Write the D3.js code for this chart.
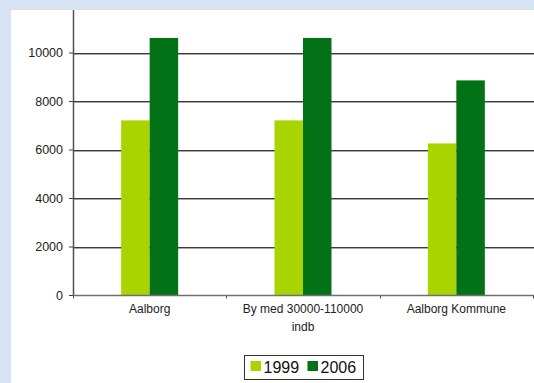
<!DOCTYPE html>
<html>
<head>
<meta charset="utf-8">
<script src="https://cdn.jsdelivr.net/npm/d3@7"></script>
<style>
  body { margin: 0; background: #d7e2f2; }
  svg { display: block; font-family: "Liberation Sans", Arial, sans-serif; }
</style>
</head>
<body>
<div id="chart"></div>
<script>
var categories = [["Aalborg"], ["By med 30000-110000", "indb"], ["Aalborg Kommune"]];
var years = ["1999", "2006"];
var values1999 = [7200, 7200, 6250];
var values2006 = [10600, 10600, 8850];
var yTicks = [0, 2000, 4000, 6000, 8000, 10000];
var colors = ["#aad400", "#037217"];

var width = 534, height = 383;
var svg = d3.select('#chart').append('svg')
    .attr('width', width)
    .attr('height', height);

// white panel
svg.append('rect')
    .attr('x', 11).attr('y', 10)
    .attr('width', width - 11).attr('height', height - 10)
    .attr('fill', 'white');

var margin = {top: 10, left: 73, bottom: 295, right: 533};

var y = d3.scaleLinear()
    .domain([0, 10000])
    .range([295, 52.5]);

var x0 = d3.scaleBand()
    .domain(d3.range(categories.length))
    .range([margin.left, margin.right]);

var x1 = d3.scaleBand()
    .domain(years)
    .range([x0.bandwidth() / 2 - 28.5, x0.bandwidth() / 2 + 28.5]);

// gridlines
var grid = svg.append('g');
yTicks.filter(d => d > 0).forEach(t => {
    grid.append('line')
        .attr('x1', margin.left).attr('x2', width)
        .attr('y1', Math.round(y(t)) + 1.5).attr('y2', Math.round(y(t)) + 1.5)
        .attr('stroke', '#a8a8a8');
    grid.append('line')
        .attr('x1', margin.left).attr('x2', width)
        .attr('y1', Math.round(y(t)) + 0.5).attr('y2', Math.round(y(t)) + 0.5)
        .attr('stroke', '#3a3a3a');
});

// bars
var series = [values1999, values2006];
categories.forEach((c, i) => {
    years.forEach((yr, j) => {
        var v = series[j][i];
        svg.append('rect')
            .attr('x', x0(i) + x1(yr))
            .attr('y', y(v))
            .attr('width', x1.bandwidth())
            .attr('height', y(0) - y(v))
            .attr('fill', colors[j]);
    });
});

// y axis
var yAxis = svg.append('g')
    .attr('transform', 'translate(' + margin.left + ',0)')
    .call(d3.axisLeft(y).tickValues(yTicks).tickSize(4).tickPadding(6).tickFormat(d3.format('d')));
yAxis.select('.domain').remove();
yAxis.selectAll('line').attr('stroke', '#404040');
yAxis.selectAll('text').attr('fill', '#222').style('font-size', '12.5px')
    .style('font-family', '"Liberation Sans", Arial, sans-serif');
svg.append('line')
    .attr('x1', margin.left + 0.5).attr('x2', margin.left + 0.5)
    .attr('y1', margin.top).attr('y2', 296)
    .attr('stroke', '#505050').attr('stroke-width', 1.5);

// x axis
var xAxis = svg.append('g')
    .attr('transform', 'translate(0,295.5)');
xAxis.append('line')
    .attr('x1', margin.left).attr('x2', width)
    .attr('stroke', '#707070').attr('stroke-width', 1.5);
d3.range(categories.length + 1).forEach(i => {
    var tx = Math.round(margin.left + i * x0.step()) + 0.5;
    xAxis.append('line')
        .attr('x1', tx).attr('x2', tx)
        .attr('y1', 0).attr('y2', 3)
        .attr('stroke', '#505050');
});
categories.forEach((c, i) => {
    var t = xAxis.append('text')
        .attr('x', x0(i) + x0.bandwidth() / 2)
        .attr('y', 17.5)
        .attr('text-anchor', 'middle')
        .attr('fill', '#222')
        .style('font-size', '12px');
    c.forEach((line, k) => {
        t.append('tspan')
            .attr('x', x0(i) + x0.bandwidth() / 2)
            .attr('dy', k === 0 ? 0 : 18)
            .text(line);
    });
});

// legend
var legend = svg.append('g').attr('transform', 'translate(244.5,355.5)');
legend.append('rect')
    .attr('width', 119).attr('height', 24)
    .attr('fill', 'white').attr('stroke', '#333');
years.forEach((yr, j) => {
    var lx = 6 + j * 57;
    legend.append('rect')
        .attr('x', lx).attr('y', 5.5)
        .attr('width', 10.5).attr('height', 10)
        .attr('fill', colors[j]);
    legend.append('text')
        .attr('x', lx + 13).attr('y', 17.5)
        .attr('fill', '#111')
        .style('font-size', '16px')
        .text(yr);
});
</script>
</body>
</html>
